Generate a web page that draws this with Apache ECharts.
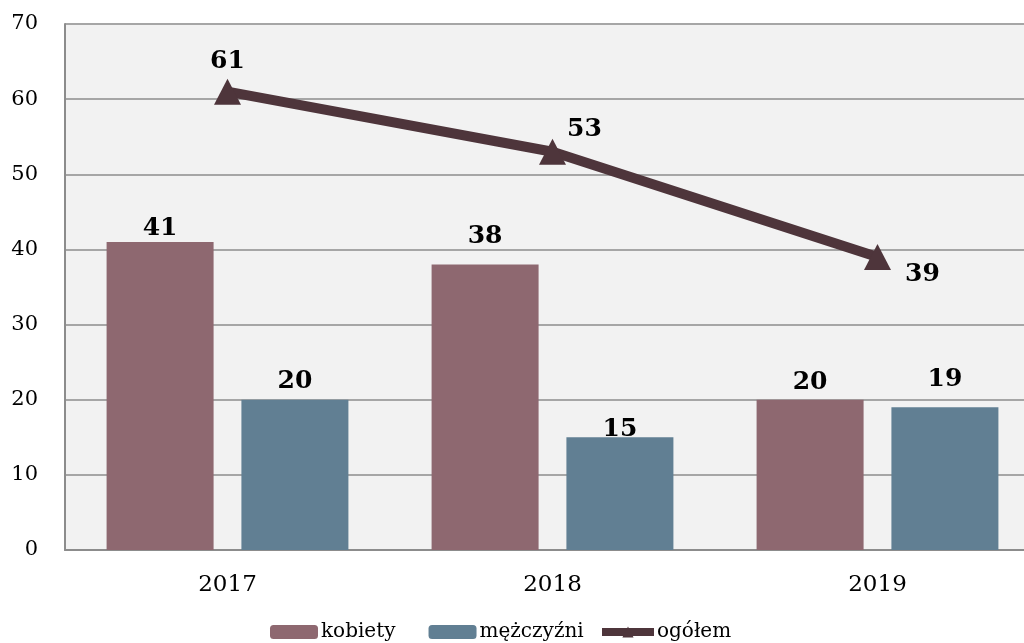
<!DOCTYPE html>
<html>
<head>
<meta charset="utf-8">
<script src="https://cdn.jsdelivr.net/npm/echarts@6/dist/echarts.min.js"></script>
<style>
  html, body { margin: 0; padding: 0; background: #ffffff; overflow: hidden; }
  #chart { width: 1024px; height: 643px; }
</style>
</head>
<body>
<div id="chart"></div>
<script>
// Years on the category axis
const years = ['2017', '2018', '2019'];
// Counts per group
const kobiety = [41, 38, 20];
const mezczyzni = [20, 15, 19];
const ogolem = [61, 53, 39];
// Value axis ticks
const yTicks = [0, 10, 20, 30, 40, 50, 60, 70];

const serif = '"DejaVu Serif", "Liberation Serif", serif';

const labelStyle = {
  show: true,
  fontFamily: serif,
  fontWeight: 'bold',
  fontSize: 25,
  color: '#000000'
};

// Gap between each bar top and its value label
const kobietyLabelGap = [1, 15, 5];
const mezczyzniLabelGap = [6, -5, 15];

// Per-point label placement for the total line
const totalLabelPos = [
  { position: 'top', offset: [0, 0] },
  { position: 'top', offset: [32, 8] },
  { position: 'right', offset: [9, 18] }
];

const barData = (vals, gaps) => vals.map((v, i) => ({ value: v, label: { distance: gaps[i] } }));

const legendText = { fontFamily: serif, fontSize: 20, color: '#000000', padding: [0, 0, 0, -2] };

const chart = echarts.init(document.getElementById('chart'));
chart.setOption({
  backgroundColor: '#ffffff',
  animation: false,
  grid: {
    left: 65,
    top: 24,
    width: 975,
    height: 526,
    outerBoundsMode: 'none',
    containLabel: false,
    show: false
  },
  legend: [
    {
      left: 265,
      bottom: -4,
      itemWidth: 48,
      itemHeight: 14,
      itemGap: 33,
      textStyle: legendText,
      data: ['kobiety', 'mężczyźni']
    },
    {
      left: 593,
      bottom: -4,
      itemWidth: 52,
      itemHeight: 14,
      textStyle: legendText,
      data: [{ name: 'ogółem', lineStyle: { width: 8 } }]
    }
  ],
  xAxis: {
    type: 'category',
    data: years,
    axisLine: { show: true, lineStyle: { color: '#8c8c8c', width: 2 } },
    axisTick: { show: false },
    splitLine: { show: false },
    axisLabel: { fontFamily: serif, fontSize: 23, color: '#000000', margin: 24 }
  },
  yAxis: {
    type: 'value',
    min: yTicks[0],
    max: yTicks[yTicks.length - 1],
    interval: 10,
    axisLine: { show: true, lineStyle: { color: '#8c8c8c', width: 2 } },
    axisTick: { show: false },
    splitLine: { show: true, lineStyle: { color: '#a6a6a6', width: 2 } },
    splitArea: { show: true, areaStyle: { color: ['#f2f2f2'] } },
    axisLabel: { fontFamily: serif, fontSize: 21, color: '#000000', margin: 27 }
  },
  series: [
    {
      name: 'kobiety',
      type: 'bar',
      data: barData(kobiety, kobietyLabelGap),
      barWidth: 107,
      barGap: '26%',
      itemStyle: { color: '#8e6870' },
      label: Object.assign({}, labelStyle, { position: 'top' })
    },
    {
      name: 'mężczyźni',
      type: 'bar',
      data: barData(mezczyzni, mezczyzniLabelGap),
      barWidth: 107,
      barGap: '26%',
      itemStyle: { color: '#617f93' },
      label: Object.assign({}, labelStyle, { position: 'top' })
    },
    {
      name: 'ogółem',
      type: 'line',
      data: ogolem.map((v, i) => ({ value: v, label: totalLabelPos[i] })),
      symbol: 'triangle',
      symbolSize: [27, 26],
      lineStyle: { color: '#4e353b', width: 10 },
      itemStyle: { color: '#4e353b' },
      label: labelStyle,
      z: 5
    }
  ]
});
</script>
</body>
</html>
